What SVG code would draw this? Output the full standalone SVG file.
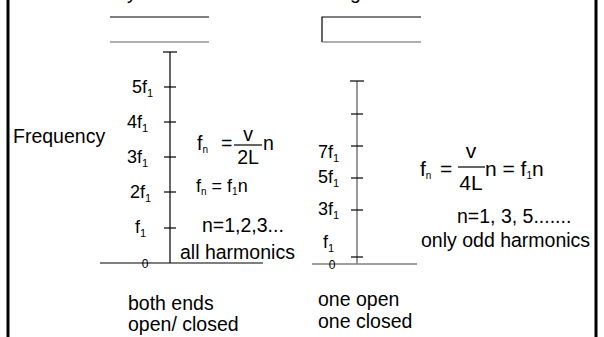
<svg xmlns="http://www.w3.org/2000/svg" width="604" height="337" viewBox="0 0 604 337">
<style>
text{font-family:"Liberation Sans",Arial,sans-serif;fill:#000}
.t{font-size:19.5px}
.f{font-size:21px}
.lbl{font-size:18px}
.sub{font-size:11px}
.tiny{font-size:10px}
.zero{font-size:12px}
.ax{stroke:#000;stroke-width:1.2;fill:none}
.axg{stroke:#808080;stroke-width:1.6;fill:none}
.tk{stroke:#000;stroke-width:1.2}
.pd{stroke:#000;stroke-width:1.2;fill:none}
.pg{stroke:#606060;stroke-width:1.2;fill:none}
.bd{stroke:#000;stroke-width:3}
</style>
<rect width="604" height="337" fill="#fff"/>
<g id="frame">
<line class="bd" x1="8" y1="0" x2="8" y2="337"/>
<line class="bd" x1="596" y1="0" x2="596" y2="337"/>
</g>
<g id="cutoff-titles">
<text class="t" x="127" y="-1">y</text>
<text class="t" x="350" y="-1">g</text>
</g>
<g id="pipe-open">
<line class="pd" x1="110" y1="17" x2="209" y2="17"/>
<line class="pg" x1="110" y1="42" x2="209" y2="42"/>
</g>
<g id="pipe-closed">
<path class="pd" d="M421,17 H322 V42"/>
<line class="pg" x1="322" y1="42" x2="421" y2="42"/>
</g>
<g id="axis-left">
<line class="ax" x1="100" y1="263" x2="263" y2="263"/>
<line class="ax" x1="170" y1="52" x2="170" y2="263"/>
<line class="tk" x1="163" y1="52" x2="177" y2="52"/>
<line class="tk" x1="164" y1="87" x2="176" y2="87"/>
<line class="tk" x1="164" y1="122" x2="176" y2="122"/>
<line class="tk" x1="164" y1="157" x2="176" y2="157"/>
<line class="tk" x1="164" y1="192" x2="176" y2="192"/>
<line class="tk" x1="164" y1="228" x2="176" y2="228"/>
<text class="zero" x="145" y="268" text-anchor="middle">0</text>
<text class="lbl" x="132" y="93">5f<tspan class="sub" dy="4">1</tspan></text>
<text class="lbl" x="127" y="128">4f<tspan class="sub" dy="4">1</tspan></text>
<text class="lbl" x="127" y="163">3f<tspan class="sub" dy="4">1</tspan></text>
<text class="lbl" x="130" y="198">2f<tspan class="sub" dy="4">1</tspan></text>
<text class="lbl" x="135" y="233">f<tspan class="sub" dy="4">1</tspan></text>
</g>
<g id="axis-right">
<line class="axg" x1="312" y1="264" x2="417" y2="264"/>
<line class="axg" x1="357" y1="81" x2="357" y2="264"/>
<line class="tk" x1="350" y1="81" x2="364" y2="81"/>
<line class="tk" x1="351" y1="114" x2="363" y2="114"/>
<line class="tk" x1="351" y1="146" x2="363" y2="146"/>
<line class="tk" x1="351" y1="178" x2="363" y2="178"/>
<line class="tk" x1="351" y1="210" x2="363" y2="210"/>
<line class="tk" x1="351" y1="257" x2="363" y2="257"/>
<text class="zero" x="332" y="269" text-anchor="middle">0</text>
<text class="lbl" x="318" y="158">7f<tspan class="sub" dy="4">1</tspan></text>
<text class="lbl" x="318" y="183">5f<tspan class="sub" dy="4">1</tspan></text>
<text class="lbl" x="318" y="215">3f<tspan class="sub" dy="4">1</tspan></text>
<text class="lbl" x="323" y="248">f<tspan class="sub" dy="4">1</tspan></text>
</g>
<g id="label-frequency">
<text class="t" x="13" y="143">Frequency</text>
</g>
<g id="formula-left">
<text class="t" x="197" y="150">f<tspan class="tiny" dy="3">n</tspan></text>
<text class="t" x="221" y="150">=</text>
<line class="pd" x1="234" y1="145" x2="262" y2="145"/>
<text class="t" x="248" y="141" text-anchor="middle">v</text>
<text class="t" x="248" y="164" text-anchor="middle">2L</text>
<text class="t" x="263" y="150">n</text>
<text class="lbl" x="196" y="192">f<tspan class="tiny" dy="3">n</tspan><tspan dy="-3"> = f</tspan><tspan class="tiny" dy="3">1</tspan><tspan dy="-3">n</tspan></text>
<text class="t" x="202" y="232">n=1,2,3...</text>
<text class="t" x="180" y="259">all harmonics</text>
</g>
<g id="formula-right">
<text class="f" x="420" y="176">f<tspan class="tiny" dy="3">n</tspan></text>
<text class="f" x="440" y="176">=</text>
<line class="pd" x1="458" y1="167" x2="485" y2="167"/>
<text class="f" x="471" y="158" text-anchor="middle">v</text>
<text class="f" x="471" y="190" text-anchor="middle">4L</text>
<text class="f" x="485" y="176">n = f<tspan class="tiny" dy="3">1</tspan><tspan dy="-3">n</tspan></text>
<text class="t" x="457" y="223">n=1, 3, 5.......</text>
<text class="t" x="421" y="247">only odd harmonics</text>
</g>
<g id="caption-left">
<text class="t" x="128" y="310">both ends</text>
<text class="t" x="128" y="331">open/ closed</text>
</g>
<g id="caption-right">
<text class="t" x="318" y="306">one open</text>
<text class="t" x="318" y="328">one closed</text>
</g>
</svg>
